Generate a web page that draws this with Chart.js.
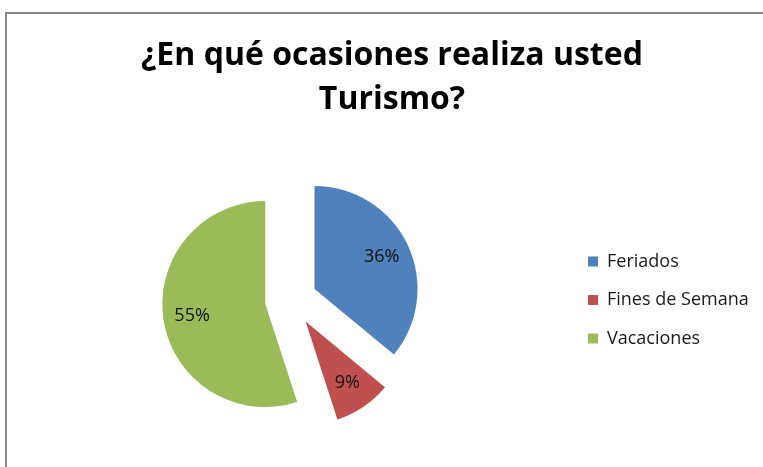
<!DOCTYPE html>
<html><head><meta charset="utf-8">
<script src="https://cdn.jsdelivr.net/npm/chart.js@4"></script>
<style>
html,body{margin:0;padding:0;overflow:hidden;background:#fff;width:763px;height:467px;}
#c{position:absolute;left:0;top:0;}
#frame{position:absolute;left:5px;top:12px;width:900px;height:600px;border:2px solid #878787;box-sizing:border-box;pointer-events:none;}
</style></head><body>
<canvas id="c" width="800" height="467"></canvas>
<div id="frame"></div>
<script>
// ---- data ----
const categories = ['Feriados', 'Fines de Semana', 'Vacaciones'];
const percentages = [36, 9, 55];
const titleLines = ['¿En qué ocasiones realiza usted', 'Turismo?'];
const sliceColors = ['#4F81BD', '#C0504D', '#9BBB59'];

// ---- style / layout constants ----
const EXPLODE = 26;        // px each slice is pulled out
const PIE_RADIUS = 103;
const LEGEND_W = 202;
const LABEL_POS = 0.72;    // label distance as fraction of radius

const explodePlugin = {
  id: 'explode',
  beforeLayout(chart) {
    const lg = chart.legend;
    if (lg && !lg._patched) {
      const orig = lg.fit;
      lg.fit = function () { orig.call(this); this.width = LEGEND_W; };
      lg._patched = true;
    }
  },
  beforeDatasetDraw(chart, args) {
    const ctx = chart.ctx;
    args.meta.data.forEach(arc => {
      const mid = (arc.startAngle + arc.endAngle) / 2;
      ctx.save();
      ctx.translate(Math.cos(mid) * EXPLODE, Math.sin(mid) * EXPLODE);
      arc.draw(ctx, chart.chartArea);
      ctx.restore();
    });
    return false;
  },
  afterDatasetsDraw(chart) {
    const ctx = chart.ctx;
    const meta = chart.getDatasetMeta(0);
    const vals = chart.data.datasets[0].data;
    ctx.save();
    ctx.font = '18px "Open Sans"';
    ctx.fillStyle = '#111';
    ctx.textAlign = 'center';
    ctx.textBaseline = 'middle';
    meta.data.forEach((arc, i) => {
      const mid = (arc.startAngle + arc.endAngle) / 2;
      const r = EXPLODE + arc.outerRadius * LABEL_POS;
      ctx.fillText(vals[i] + '%', arc.x + Math.cos(mid) * r, arc.y + Math.sin(mid) * r);
    });
    ctx.restore();
  }
};

new Chart(document.getElementById('c'), {
  type: 'pie',
  data: {
    labels: categories,
    datasets: [{
      data: percentages,
      backgroundColor: sliceColors,
      borderWidth: 0,
      radius: PIE_RADIUS
    }]
  },
  options: {
    responsive: false,
    animation: false,
    layout: { padding: { left: 14.5, right: 30.5, top: 0, bottom: 0 } },
    plugins: {
      title: {
        display: true,
        text: titleLines,
        color: '#000',
        font: { family: 'Open Sans', weight: 'bold', size: 32, lineHeight: 44 / 32 },
        padding: { top: 34, bottom: 11 }
      },
      legend: {
        position: 'right',
        align: 'center',
        fullSize: false,
        labels: {
          boxWidth: 10,
          boxHeight: 10,
          padding: 20.5,
          color: '#1a1a1a',
          font: { family: 'Open Sans', size: 18 }
        }
      },
      tooltip: { enabled: false }
    }
  },
  plugins: [explodePlugin]
});
</script>
</body></html>
